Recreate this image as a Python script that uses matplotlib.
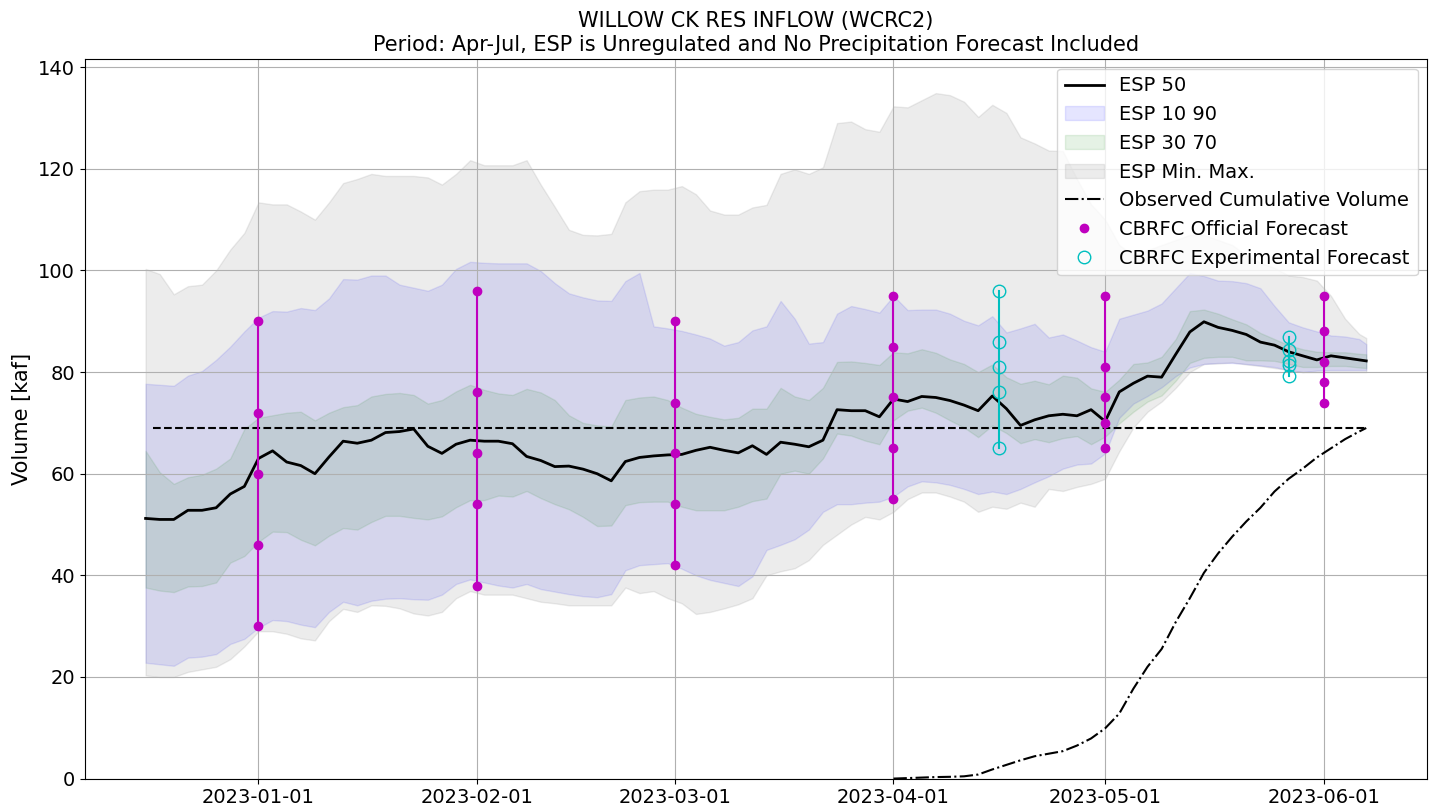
import matplotlib
matplotlib.use('Agg')
import matplotlib.pyplot as plt
import matplotlib.dates as mdates
import numpy as np
import pandas as pd

# ESP trace dates (every 2 days, last step 1 day)
dates = pd.date_range('2022-12-16', '2023-06-06', freq='2D').append(pd.DatetimeIndex(['2023-06-07']))

esp50 = [51.2, 51.0, 51.0, 52.8, 52.8, 53.3, 56.0, 57.5, 63.0, 64.5, 62.3,
         61.6, 60.0, 63.3, 66.4, 66.0, 66.6, 68.1, 68.3, 68.8, 65.4, 64.0,
         65.8, 66.6, 66.4, 66.4, 65.9, 63.4, 62.6, 61.4, 61.5, 60.9, 60.0,
         58.6, 62.4, 63.2, 63.5, 63.7, 63.8, 64.6, 65.2, 64.6, 64.1, 65.5,
         63.8, 66.2, 65.8, 65.3, 66.6, 72.6, 72.4, 72.4, 71.2, 74.7, 74.2,
         75.2, 75.0, 74.4, 73.5, 72.4, 75.3, 72.8, 69.5, 70.6, 71.4, 71.7,
         71.4, 72.6, 70.3, 76.1, 77.8, 79.2, 79.0, 83.5, 87.9, 89.9, 88.8,
         88.2, 87.4, 85.9, 85.3, 84.0, 83.2, 82.4, 83.2, 82.8, 82.4, 82.2]

esp_max = [100.3, 99.3, 95.3, 96.9, 97.2, 100.0, 104.1, 107.4, 113.4, 113.0, 113.0,
           111.6, 110.0, 113.4, 117.2, 118.0, 119.0, 118.6, 118.6, 118.6, 118.3, 116.9,
           119.0, 121.7, 120.7, 120.7, 120.7, 121.7, 116.9, 112.5, 108.0, 107.0, 106.9,
           107.2, 113.4, 115.6, 115.9, 115.9, 116.6, 115.0, 111.8, 111.0, 111.0, 112.4,
           112.9, 119.0, 119.9, 119.0, 120.3, 129.0, 129.3, 127.8, 127.3, 132.3, 132.1,
           133.5, 134.9, 134.5, 133.2, 130.2, 132.6, 131.0, 126.2, 125.0, 123.6, 123.5,
           118.0, 113.0, 110.0, 105.0, 103.0, 104.0, 105.0, 106.0, 107.0, 107.0, 106.0,
           105.0, 103.0, 101.5, 100.5, 99.0, 98.7, 98.0, 95.0, 90.5, 87.5, 86.7]

esp90 = [77.7, 77.5, 77.3, 79.3, 80.2, 82.4, 85.0, 88.0, 90.7, 92.0, 91.9,
         92.6, 92.2, 94.5, 98.3, 98.2, 99.0, 99.0, 97.2, 96.6, 96.0, 97.2,
         100.3, 101.7, 101.5, 101.4, 101.4, 101.4, 99.9, 97.5, 95.5, 94.7, 94.1,
         94.0, 97.9, 99.5, 89.0, 88.6, 88.1, 87.4, 86.6, 85.2, 85.9, 88.2,
         89.0, 94.0, 90.5, 85.6, 85.9, 91.5, 93.0, 92.4, 91.7, 95.0, 92.2,
         92.3, 92.3, 91.5, 90.1, 89.2, 91.0, 87.8, 88.6, 89.5, 86.8, 87.4,
         86.2, 84.9, 84.0, 90.5, 91.3, 92.1, 93.5, 96.5, 99.5, 98.9, 98.0,
         97.9, 97.5, 96.5, 93.0, 89.8, 88.8, 88.0, 87.2, 87.0, 86.5, 85.5]

esp70 = [64.5, 60.3, 58.0, 59.3, 59.8, 61.0, 63.0, 68.8, 71.0, 71.5, 72.0,
         72.2, 70.5, 72.0, 73.1, 73.5, 75.2, 75.7, 75.9, 75.5, 73.8, 74.5,
         76.2, 77.5, 76.5, 75.8, 75.5, 76.7, 76.0, 74.5, 71.5, 70.0, 69.5,
         69.3, 74.5, 75.0, 75.2, 74.5, 73.0, 71.8, 71.2, 70.7, 71.0, 72.8,
         72.8, 76.9, 75.2, 74.5, 76.9, 82.0, 82.1, 81.8, 81.4, 83.9, 83.7,
         84.5, 83.8, 82.5, 81.6, 80.0, 81.5, 79.0, 77.7, 78.3, 77.6, 79.3,
         78.9, 76.8, 76.1, 78.5, 81.6, 81.9, 83.0, 86.5, 92.0, 92.3, 91.5,
         90.4, 89.4, 87.7, 86.5, 85.3, 84.5, 84.0, 83.9, 83.9, 83.6, 83.5]

esp30 = [37.6, 37.0, 36.7, 37.8, 37.9, 38.6, 42.5, 43.8, 46.6, 48.6, 48.5,
         47.0, 45.9, 47.8, 49.3, 49.0, 50.5, 51.7, 51.7, 51.3, 51.0, 51.6,
         53.4, 54.8, 54.8, 55.7, 55.5, 56.6, 55.2, 54.0, 53.0, 51.5, 49.7,
         49.8, 53.8, 54.4, 54.5, 54.5, 53.5, 52.8, 52.8, 52.8, 53.5, 54.6,
         55.1, 60.0, 60.6, 60.0, 63.0, 67.9, 67.5, 66.5, 65.8, 70.5, 72.4,
         73.0, 72.0, 70.5, 69.1, 67.2, 69.5, 68.0, 66.0, 66.8, 66.2, 67.0,
         67.4, 65.8, 67.3, 69.9, 72.2, 74.2, 75.4, 78.3, 81.8, 82.8, 83.0,
         83.0, 82.3, 82.3, 82.2, 81.6, 81.0, 81.0, 81.2, 81.2, 80.9, 80.8]

esp10 = [22.8, 22.5, 22.2, 23.8, 24.0, 24.5, 26.5, 27.5, 29.7, 31.2, 31.0,
         30.3, 29.8, 32.8, 34.8, 34.1, 35.0, 35.4, 35.5, 35.3, 35.2, 36.2,
         38.3, 39.2, 38.6, 38.0, 37.6, 38.3, 37.3, 36.8, 36.3, 35.9, 35.7,
         36.3, 41.0, 42.0, 42.2, 42.4, 41.3, 40.0, 39.1, 38.5, 37.9, 39.8,
         45.0, 46.0, 47.1, 49.0, 52.5, 54.0, 54.0, 54.3, 54.5, 55.5, 57.5,
         58.5, 58.3, 57.8, 57.0, 56.0, 56.5, 56.0, 57.0, 58.3, 59.5, 61.0,
         61.8, 62.0, 64.0, 71.0, 73.8, 75.3, 77.0, 79.2, 80.9, 81.6, 81.8,
         81.8, 81.6, 81.3, 81.0, 80.4, 80.0, 80.3, 80.4, 80.4, 80.4, 80.4]

esp_min = [20.3, 20.0, 20.0, 21.0, 21.5, 22.0, 23.5, 26.0, 29.0, 29.0, 28.5,
           27.6, 27.2, 31.0, 33.4, 32.8, 34.1, 34.0, 33.5, 32.5, 32.1, 32.8,
           35.5, 36.9, 36.2, 36.2, 36.2, 35.5, 34.8, 34.5, 34.1, 34.1, 34.1,
           34.1, 37.6, 36.5, 36.9, 35.5, 34.5, 32.4, 32.8, 33.5, 34.3, 35.5,
           40.0, 40.8, 41.4, 43.0, 46.0, 48.0, 50.0, 51.5, 51.0, 52.5, 55.0,
           56.3, 56.3, 55.5, 54.5, 52.5, 53.5, 53.1, 54.3, 53.5, 57.0, 56.6,
           57.4, 58.0, 59.0, 64.4, 69.1, 72.2, 74.2, 76.9, 80.0, 81.6, 81.7,
           81.9, 81.5, 81.2, 80.8, 80.4, 80.0, 80.0, 80.0, 80.0, 80.0, 80.0]

observed_total = 69.0
total_dates = pd.to_datetime(['2022-12-17', '2023-06-07'])

obs_dates = pd.date_range('2023-04-01', '2023-06-06', freq='2D').append(pd.DatetimeIndex(['2023-06-07']))
obs_cum = [0.0, 0.1, 0.2, 0.3, 0.35, 0.45, 0.8, 1.8, 2.7, 3.6, 4.4, 4.9,
           5.4, 6.5, 7.9, 9.9, 12.8, 17.7, 22.0, 25.5, 30.8, 35.5, 40.5, 44.3,
           47.6, 50.6, 53.3, 56.5, 59.0, 61.0, 63.2, 65.0, 66.8, 68.3, 69.0]

official_dates = pd.to_datetime(['2023-01-01', '2023-02-01', '2023-03-01',
                                 '2023-04-01', '2023-05-01', '2023-06-01'])
official_fcst = [[90, 72, 60, 46, 30],
                 [96, 76, 64, 54, 38],
                 [90, 74, 64, 54, 42],
                 [95, 85, 75, 65, 55],
                 [95, 81, 75, 70, 65],
                 [95, 88, 82, 78, 74]]

exp_dates = pd.to_datetime(['2023-04-16', '2023-05-27'])
exp_fcst = [[96, 86, 81, 76, 65],
            [87, 84.3, 82.2, 81.4, 79.2]]

plt.rcParams['font.size'] = 14

fig, ax = plt.subplots(figsize=(14.33, 8.06), dpi=100)

ax.plot(dates, esp50, 'k-', lw=2, label='ESP 50')
ax.fill_between(dates, esp10, esp90, color='blue', alpha=0.1, label='ESP 10 90')
ax.fill_between(dates, esp30, esp70, color='green', alpha=0.1, label='ESP 30 70')
ax.fill_between(dates, esp_min, esp_max, color='grey', alpha=0.15, label='ESP Min. Max.')
ax.plot(total_dates, [observed_total] * 2, 'k--', lw=1.5)
ax.plot(obs_dates, obs_cum, 'k-.', lw=1.5, label='Observed Cumulative Volume')

for d, vals in zip(official_dates, official_fcst):
    ax.plot([d, d], [min(vals), max(vals)], 'm-', lw=1.5)
    ax.plot([d] * len(vals), vals, 'mo', ms=6)
ax.plot([], [], 'mo', ms=6, label='CBRFC Official Forecast')

for d, vals in zip(exp_dates, exp_fcst):
    ax.plot([d, d], [min(vals), max(vals)], 'c-', lw=1.5)
    ax.plot([d] * len(vals), vals, 'co', ms=9, mfc='none')
ax.plot([], [], 'co', ms=9, mfc='none', label='CBRFC Experimental Forecast')

ax.set_ylim(bottom=0)
ax.xaxis.set_major_locator(mdates.MonthLocator())
ax.xaxis.set_major_formatter(mdates.DateFormatter('%Y-%m-%d'))
ax.grid(True)
ax.set_ylabel('Volume [kaf]', fontsize=15)
ax.set_title('WILLOW CK RES INFLOW (WCRC2)\nPeriod: Apr-Jul, ESP is Unregulated and No Precipitation Forecast Included',
             fontsize=15)
ax.legend(loc='upper right', fontsize=14)

fig.subplots_adjust(left=0.059, right=0.996, top=0.927, bottom=0.034)
fig.savefig('out.png', dpi=100)
